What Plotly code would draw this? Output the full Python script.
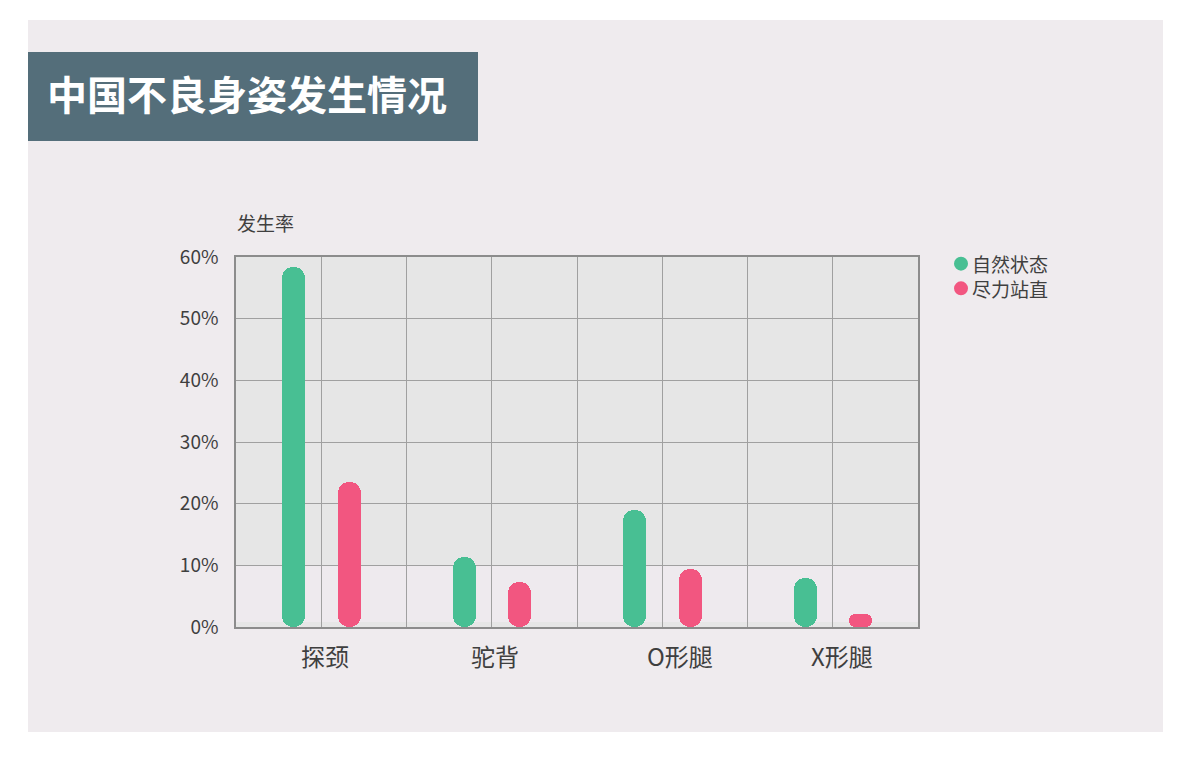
import plotly.graph_objects as go

categories = ['探颈', '驼背', 'O形腿', 'X形腿']
natural = [58.4, 11.3, 19.0, 7.9]      # 自然状态
effort = [23.5, 7.3, 9.4, 2.1]         # 尽力站直
y_ticks = [0, 10, 20, 30, 40, 50, 60]
y_ticktext = [f'{v}%' for v in y_ticks]
series_names = ['自然状态', '尽力站直']

GREEN = '#48bf93'
PINK = '#f25680'
FONT = 'Noto Sans CJK SC'
TXT = '#3f3f3f'
GRID = '#a0a0a0'
xpos = list(range(len(categories)))

BAR_W = 0.135
offsets = [-0.16 - BAR_W / 2, 0.164 - BAR_W / 2]
label_shift_px = [4, 3, 18, 9]   # category label nudges as in the original

# page has an 8px body margin; positions below are in screen pixels
OFF = 8
W, H = 1200 - OFF, 757 - OFF
PL, PR, PT, PB = 236, 918, 257, 627          # plot area in screen px
L, R, T, B = PL - OFF, W - (PR - OFF), PT - OFF, H - (PB - OFF)
PW, PH = PR - PL, PB - PT

def px(x):
    return (x - PL) / PW

def py(y):
    return (PB - y) / PH

fig = go.Figure()
for vals, color, off in [(natural, GREEN, offsets[0]), (effort, PINK, offsets[1])]:
    fig.add_trace(go.Bar(x=xpos, y=vals, base=[0] * len(vals), width=BAR_W, offset=off,
                         marker=dict(color=color, cornerradius='50%', line=dict(width=0)),
                         showlegend=False, hoverinfo='skip'))

shapes = [
    dict(type='rect', xref='paper', yref='paper', x0=px(28), x1=px(1163), y0=py(732), y1=py(20),
         fillcolor='#efebee', line=dict(width=0), layer='below'),
    dict(type='rect', xref='paper', yref='paper', x0=px(28), x1=px(478), y0=py(141), y1=py(52),
         fillcolor='#546e7a', line=dict(width=0), layer='below'),
    dict(type='rect', xref='x domain', yref='y domain', x0=0, x1=1, y0=0, y1=1,
         fillcolor='#e6e6e6', line=dict(width=0), layer='below'),
    dict(type='rect', xref='x domain', yref='y', x0=0, x1=1, y0=0.8, y1=10,
         fillcolor='#eeeaee', line=dict(width=0), layer='below'),
]

annotations = [
    dict(text='中国不良身姿发生情况', xref='paper', yref='paper', x=px(45), y=py(93),
         xanchor='left', yanchor='middle', showarrow=False,
         font=dict(family=FONT, size=40, color='white', weight='bold')),
    dict(text='发生率', xref='paper', yref='paper', x=px(235), y=py(222),
         xanchor='left', yanchor='middle', showarrow=False,
         font=dict(family=FONT, size=19, color=TXT)),
]

# category labels under the axis
for xi, cat, sh in zip(xpos, categories, label_shift_px):
    annotations.append(dict(text=cat, xref='x', yref='paper', x=xi, y=py(655),
                            xshift=sh, xanchor='center', yanchor='middle', showarrow=False,
                            font=dict(family=FONT, size=24, color=TXT)))

# manual legend: one two-line text block plus circle markers
LEG_FS = 19
leg_center = 276
line_gap = LEG_FS * 1.3
leg_rows = [leg_center - line_gap / 2, leg_center + line_gap / 2]
for color, yy in zip([GREEN, PINK], leg_rows):
    shapes.append(dict(type='circle', xref='paper', yref='paper',
                       x0=px(954), x1=px(968), y0=py(yy + 7), y1=py(yy - 7),
                       fillcolor=color, line=dict(width=0)))
annotations.append(dict(text='<br>'.join(series_names), xref='paper', yref='paper',
                        x=px(970), y=py(leg_center), xanchor='left', yanchor='middle',
                        align='left', showarrow=False,
                        font=dict(family=FONT, size=LEG_FS, color=TXT)))

fig.update_layout(
    width=W, height=H,
    margin=dict(l=L, r=R, t=T, b=B),
    paper_bgcolor='white', plot_bgcolor='#e6e6e6',
    barmode='overlay', bargap=0, showlegend=False,
    shapes=shapes, annotations=annotations,
    font=dict(family=FONT, color=TXT),
)

fig.update_xaxes(range=[-0.5, 3.5], tickvals=xpos, ticktext=categories, showticklabels=False,
                 showgrid=True, gridcolor=GRID, gridwidth=1,
                 minor=dict(tick0=-0.5, dtick=1, showgrid=True, gridcolor=GRID, gridwidth=1),
                 showline=True, linecolor='#8c8c8c', linewidth=1.5, mirror=True,
                 zeroline=False, ticks='', fixedrange=True)
fig.update_yaxes(range=[0, 60], tickvals=y_ticks, ticktext=y_ticktext,
                 showgrid=True, gridcolor=GRID, gridwidth=1,
                 showline=True, linecolor='#8c8c8c', linewidth=1.5, mirror=True,
                 zeroline=False, ticks='', ticklabelstandoff=12,
                 tickfont=dict(family=FONT, size=19, color=TXT), fixedrange=True)

fig.write_html('out.html')
